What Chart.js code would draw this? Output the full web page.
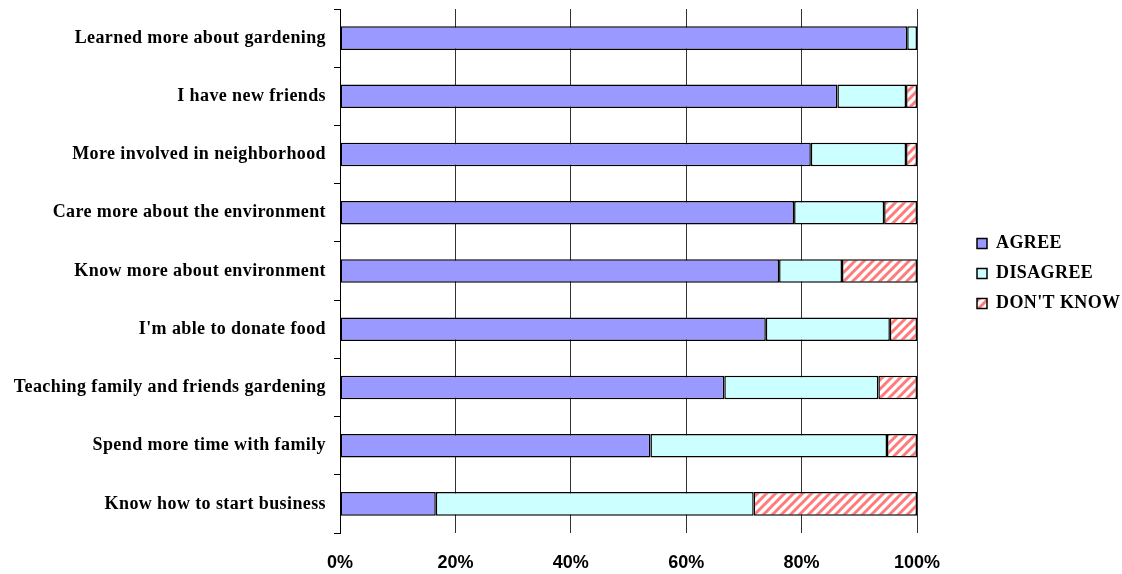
<!DOCTYPE html>
<html>
<head>
<meta charset="utf-8">
<script src="https://cdn.jsdelivr.net/npm/chart.js@4.4.0/dist/chart.umd.min.js"></script>
<style>
  html, body { margin: 0; padding: 0; background: #ffffff; }
  #wrap { width: 1122px; height: 574px; position: relative; }
</style>
</head>
<body>
<div id="wrap"><canvas id="c"></canvas></div>
<script>
// ---- data (percent of respondents) ----
const categories = [
  'Learned more about gardening',
  'I have new friends',
  'More involved in neighborhood',
  'Care more about the environment',
  'Know more about environment',
  "I'm able to donate food",
  'Teaching family and friends gardening',
  'Spend more time with family',
  'Know how to start business'
];
const agree     = [98.3, 86.2, 81.6, 78.7, 76.1, 73.8, 66.6, 53.8, 16.6];
const disagree  = [ 1.7, 11.9, 16.5, 15.6, 10.9, 21.5, 26.7, 41.0, 55.1];
const dontKnow  = [ 0.0,  1.9,  1.9,  5.7, 13.0,  4.7,  6.7,  5.2, 28.3];
const seriesNames = ['AGREE', 'DISAGREE', "DON'T KNOW"];
const xTicks = [0, 20, 40, 60, 80, 100];

// ---- hatch pattern for DON'T KNOW ----
function makeHatch() {
  const n = 9;
  const pc = document.createElement('canvas');
  pc.width = n; pc.height = n;
  const p = pc.getContext('2d');
  p.fillStyle = '#ffffff';
  p.fillRect(0, 0, n, n);
  p.strokeStyle = '#ff7a7a';
  p.lineWidth = 3;
  p.beginPath();
  p.moveTo(0, n); p.lineTo(n, 0);
  p.moveTo(-n / 2, n / 2); p.lineTo(n / 2, -n / 2);
  p.moveTo(n / 2, n * 1.5); p.lineTo(n * 1.5, n / 2);
  p.stroke();
  return document.getElementById('c').getContext('2d').createPattern(pc, 'repeat');
}
const hatch = makeHatch();

const serif = "'Liberation Serif', 'Times New Roman', serif";
const sans = "'Liberation Sans', Arial, sans-serif";
const SPACING = '0.4px';

// legend placement & letter spacing tweaks
const tweakPlugin = {
  id: 'tweak',
  beforeLayout(chart) {
    const lg = chart.legend;
    if (lg && !lg._fx) {
      const of = lg.fit;
      lg.fit = function () { of.call(this); this.width = 205; };
      const od = lg.draw;
      lg.draw = function (a) {
        const ctx = this.ctx; ctx.save();
        try { ctx.letterSpacing = SPACING; } catch (e) {}
        od.call(this, a); ctx.restore();
      };
      lg._fx = true;
    }
  },
  afterLayout(chart) {
    const lg = chart.legend;
    if (lg) {
      const pad = lg.options.labels.padding;
      lg.left = 977 - pad;
      lg.right = 1122;
      lg.top = lg.top - 18;
      lg.bottom = lg.bottom - 18;
    }
  },
  beforeDraw(chart) {
    const y = chart.scales.y;
    if (y && !y._ls) {
      const o = y.drawLabels;
      y.drawLabels = function (a) {
        const ctx = this.ctx; ctx.save();
        try { ctx.letterSpacing = SPACING; } catch (e) {}
        o.call(this, a); ctx.restore();
      };
      y._ls = true;
    }
  }
};

new Chart(document.getElementById('c'), {
  type: 'bar',
  data: {
    labels: categories,
    datasets: [
      { label: seriesNames[0], data: agree, backgroundColor: '#9999ff' },
      { label: seriesNames[1], data: disagree, backgroundColor: '#ccffff' },
      { label: seriesNames[2], data: dontKnow, backgroundColor: hatch }
    ].map(d => Object.assign(d, {
      borderColor: '#000000',
      borderWidth: 1.5,
      borderSkipped: false,
      categoryPercentage: 0.45,
      barPercentage: 0.9
    }))
  },
  options: {
    indexAxis: 'y',
    responsive: true,
    maintainAspectRatio: false,
    animation: false,
    layout: { padding: { top: 9, left: 0, right: 0, bottom: 0 } },
    scales: {
      x: {
        stacked: true,
        min: 0, max: 100,
        afterBuildTicks: s => { s.ticks = xTicks.map(v => ({ value: v })); },
        afterFit: s => { s.height = 41; s.paddingLeft = 0; s.paddingRight = 0; },
        ticks: {
          callback: v => v + '%',
          color: '#000',
          padding: 19,
          font: { family: sans, weight: 'bold', size: 18 }
        },
        grid: { color: '#333333', lineWidth: 1, drawTicks: false },
        border: { display: false }
      },
      y: {
        stacked: true,
        afterFit: s => { s.width = 340; s.paddingTop = 0; s.paddingBottom = 0; },
        ticks: {
          color: '#000',
          padding: 8,
          autoSkip: false,
          font: { family: serif, weight: 'bold', size: 18 }
        },
        grid: { drawOnChartArea: false, drawTicks: true, tickLength: 6, color: '#000', offset: true },
        border: { display: true, color: '#000', width: 1 }
      }
    },
    plugins: {
      legend: {
        position: 'right',
        align: 'center',
        labels: {
          boxWidth: 10,
          boxHeight: 10,
          padding: 12,
          color: '#000',
          font: { family: serif, weight: 'bold', size: 18 }
        }
      },
      tooltip: { enabled: false }
    }
  },
  plugins: [tweakPlugin]
});
</script>
</body>
</html>
